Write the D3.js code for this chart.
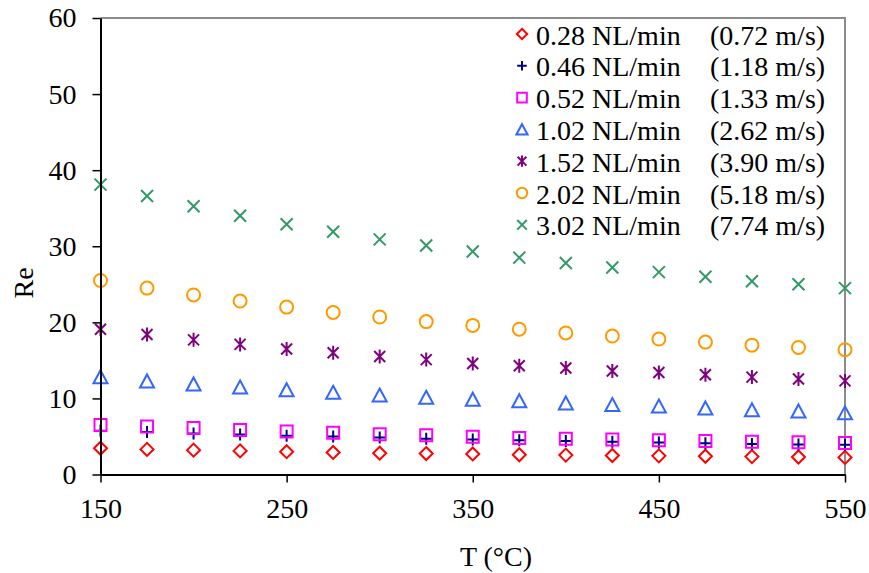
<!DOCTYPE html>
<html><head><meta charset="utf-8">
<script src="https://cdn.jsdelivr.net/npm/d3@7"></script>
<style>
body{margin:0;background:#fff;}
svg text{font-family:"Liberation Serif","Times New Roman",serif;fill:#000;}
</style></head>
<body><svg id="chart" width="869" height="573"></svg>
<script>
const temps = [150,175,200,225,250,275,300,325,350,375,400,425,450,475,500,525,550];
const re028 = [3.45,3.3,3.2,3.1,3.0,2.9,2.8,2.75,2.7,2.6,2.55,2.5,2.45,2.4,2.35,2.3,2.25];
const re046 = [5.75,5.6,5.4,5.25,5.1,5.0,4.85,4.7,4.6,4.5,4.4,4.3,4.2,4.1,4.0,3.95,3.9];
const re052 = [6.5,6.3,6.1,5.85,5.65,5.5,5.3,5.15,4.95,4.8,4.7,4.6,4.5,4.4,4.3,4.25,4.15];
const re102 = [12.85,12.3,11.9,11.5,11.15,10.8,10.45,10.15,9.9,9.7,9.4,9.2,9.0,8.75,8.5,8.35,8.1];
const re152 = [19.1,18.4,17.7,17.1,16.5,16.0,15.5,15.1,14.6,14.3,14.0,13.6,13.4,13.1,12.8,12.55,12.3];
const re202 = [25.5,24.5,23.6,22.8,22.0,21.3,20.7,20.1,19.6,19.1,18.6,18.2,17.8,17.4,17.0,16.7,16.4];
const re302 = [38.1,36.6,35.25,34.0,32.9,31.9,30.9,30.1,29.3,28.5,27.8,27.2,26.6,26.0,25.4,25.0,24.5];
const flowLabels = ["0.28 NL/min","0.46 NL/min","0.52 NL/min","1.02 NL/min","1.52 NL/min","2.02 NL/min","3.02 NL/min"];
const velLabels = ["(0.72 m/s)","(1.18 m/s)","(1.33 m/s)","(2.62 m/s)","(3.90 m/s)","(5.18 m/s)","(7.74 m/s)"];
const xTicks = [150,250,350,450,550];
const yTicks = [0,10,20,30,40,50,60];

const seriesVals = [re028,re046,re052,re102,re152,re202,re302];
const shapes = ["diamond","plus","square","triangle","asterisk","circle","cross"];
const colors = ["#ff0000","#000080","#ff00ff","#3366ff","#800080","#ff9900","#339966"];

const svg = d3.select("#chart");
const L=100.5, R=845, T=18, B=474.5;
const x = d3.scaleLinear().domain([150,550]).range([L,R]);
const y = d3.scaleLinear().domain([0,60]).range([B,T]);

// plot border (grey top/right)
svg.append("path").attr("d",`M${L},${T}H${R}V${B}`).attr("fill","none").attr("stroke","#8c8c8c").attr("stroke-width",2);

function shapePath(s, k){
  const h=6.5*k;
  switch(s){
    case "diamond": return `M0,${-h}L${h},0L0,${h}L${-h},0Z`;
    case "square": {const a=6*k; return `M${-a},${-a}H${a}V${a}H${-a}Z`;}
    case "triangle": {const w=7*k, t=6.5*k; return `M0,${-t}L${w},${t}H${-w}Z`;}
    case "plus": {const a=6*k; return `M${-a},0H${a}M0,${-a}V${a}`;}
    case "cross": {const a=6*k; return `M${-a},${-a}L${a},${a}M${-a},${a}L${a},${-a}`;}
    case "asterisk": {const a=5.5*k, v=7*k; return `M${-a},${-a}L${a},${a}M${-a},${a}L${a},${-a}M0,${-v}V${v}`;}
  }
}
function drawMarker(g, s, c, k){
  if(s==="circle") return g.append("circle").attr("r",6.5*k).attr("fill","none").attr("stroke",c).attr("stroke-width",2);
  return g.append("path").attr("d",shapePath(s,k)).attr("fill","none").attr("stroke",c).attr("stroke-width",2);
}

seriesVals.forEach((vals,i)=>{
  const g = svg.append("g");
  vals.forEach((v,j)=>{
    const m = g.append("g").attr("transform",`translate(${x(temps[j])},${y(v)})`);
    drawMarker(m, shapes[i], colors[i], 1);
  });
});

// axes
const xa = svg.append("g").attr("transform",`translate(0,${B})`)
  .call(d3.axisBottom(x).tickValues(xTicks).tickSize(8).tickSizeOuter(0).tickPadding(16));
const ya = svg.append("g").attr("transform",`translate(${L},0)`)
  .call(d3.axisLeft(y).tickValues(yTicks).tickSize(8).tickSizeOuter(0).tickPadding(16));
[xa,ya].forEach(a=>{
  a.select(".domain").attr("stroke","#000").attr("stroke-width",2);
  a.selectAll(".tick line").attr("stroke","#000").attr("stroke-width",1.5);
  a.selectAll("text").style("font-size","28px").style("font-family","Liberation Serif");
});
xa.selectAll("text").attr("dy","0.71em");

svg.append("text").attr("x",496).attr("y",566).attr("text-anchor","middle").style("font-size","28px").text("T (°C)");
svg.append("text").attr("transform","translate(33,283) rotate(-90)").attr("text-anchor","middle").style("font-size","28px").text("Re");

// legend
flowLabels.forEach((lab,i)=>{
  const cy = 34 + i*31.8;
  const m = svg.append("g").attr("transform",`translate(522,${cy})`);
  drawMarker(m, shapes[i], colors[i], 0.8);
  svg.append("text").attr("x",536).attr("y",cy+10.5).style("font-size","28px").text(lab);
  svg.append("text").attr("x",710).attr("y",cy+10.5).style("font-size","28px").text(velLabels[i]);
});
</script></body></html>
